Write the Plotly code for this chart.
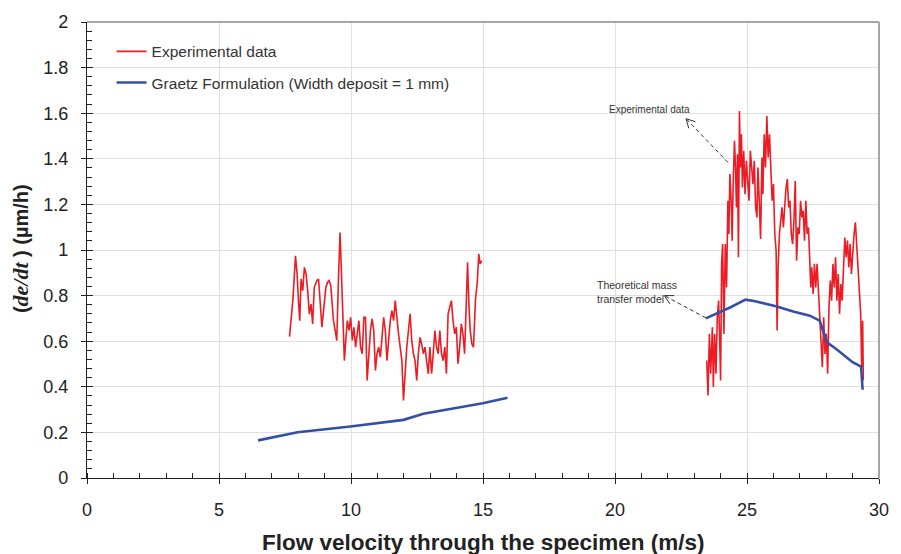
import math
import plotly.graph_objects as go

# ---------------- data ----------------
exp_left_x = [7.671, 7.797, 7.897, 7.959, 8.009, 8.059, 8.109, 8.172, 8.234, 8.297, 8.360, 8.422, 8.485,
              8.547, 8.610, 8.710, 8.772, 8.822, 8.860, 8.898, 8.960, 9.048, 9.110, 9.173, 9.235, 9.273,
              9.336, 9.423, 9.461, 9.523, 9.586, 9.636, 9.686, 9.749, 9.811, 9.861, 9.924, 9.986, 10.049,
              10.111, 10.174, 10.236, 10.299, 10.362, 10.424, 10.487, 10.549, 10.612, 10.674, 10.737,
              10.800, 10.862, 10.925, 10.987, 11.050, 11.112, 11.175, 11.237, 11.300, 11.363, 11.425,
              11.488, 11.550, 11.613, 11.675, 11.738, 11.801, 11.863, 11.926, 11.988, 12.038, 12.113,
              12.176, 12.239, 12.301, 12.364, 12.426, 12.489, 12.551, 12.614, 12.677, 12.739, 12.802,
              12.864, 12.927, 12.989, 13.052, 13.115, 13.177, 13.240, 13.302, 13.365, 13.427, 13.490,
              13.553, 13.615, 13.678, 13.740, 13.803, 13.865, 13.928, 13.990, 14.053, 14.116, 14.178,
              14.241, 14.303, 14.366, 14.416, 14.466, 14.516, 14.579, 14.641, 14.716, 14.779, 14.841,
              14.891, 14.954]
exp_left_y = [0.620, 0.778, 0.975, 0.895, 0.778, 0.690, 0.873, 0.822, 0.924, 0.895, 0.822, 0.720, 0.763,
              0.676, 0.836, 0.866, 0.873, 0.778, 0.749, 0.661, 0.734, 0.836, 0.858, 0.866, 0.844, 0.778,
              0.690, 0.632, 0.603, 0.866, 1.077, 0.909, 0.690, 0.515, 0.617, 0.690, 0.647, 0.705, 0.603,
              0.661, 0.574, 0.647, 0.690, 0.574, 0.545, 0.705, 0.705, 0.428, 0.545, 0.647,
              0.698, 0.647, 0.472, 0.545, 0.574, 0.530, 0.617, 0.705, 0.647, 0.515, 0.603,
              0.690, 0.734, 0.690, 0.778, 0.690, 0.632, 0.574, 0.515, 0.340, 0.457, 0.574,
              0.647, 0.720, 0.603, 0.545, 0.515, 0.428, 0.545, 0.617, 0.588, 0.545, 0.574,
              0.515, 0.457, 0.574, 0.457, 0.545, 0.647, 0.574, 0.545, 0.647, 0.545, 0.515,
              0.574, 0.457, 0.720, 0.749, 0.778, 0.690, 0.632, 0.661, 0.501, 0.574, 0.676,
              0.632, 0.545, 0.763, 0.946, 0.763, 0.647, 0.588, 0.574, 0.785, 0.851, 0.982,
              0.939, 0.953]

exp_right_x = [23.475, 23.525, 23.575, 23.625, 23.688, 23.725, 23.775, 23.825, 23.875, 23.925, 23.975,
               24.000, 24.038, 24.076, 24.126, 24.176, 24.226, 24.276, 24.313, 24.351, 24.401, 24.438,
               24.476, 24.526, 24.564, 24.601, 24.639, 24.676, 24.714, 24.751, 24.789, 24.826, 24.876,
               24.926, 24.976, 25.026, 25.077, 25.127, 25.177, 25.227, 25.277, 25.327, 25.377, 25.414,
               25.464, 25.515, 25.565, 25.602, 25.652, 25.702, 25.752, 25.802, 25.852, 25.902, 25.952,
               26.002, 26.053, 26.103, 26.140, 26.178, 26.228, 26.278, 26.328, 26.378, 26.428, 26.478,
               26.528, 26.578, 26.628, 26.678, 26.728, 26.778, 26.828, 26.878, 26.929, 26.979, 27.029,
               27.079, 27.129, 27.179, 27.229, 27.279, 27.329, 27.379, 27.416, 27.454, 27.504, 27.554,
               27.604, 27.654, 27.704, 27.754, 27.804, 27.854, 27.905, 27.955, 28.005, 28.055, 28.105,
               28.155, 28.205, 28.255, 28.305, 28.355, 28.405, 28.455, 28.505, 28.555, 28.605, 28.655,
               28.705, 28.755, 28.806, 28.856, 28.906, 28.956, 29.006, 29.056, 29.106, 29.156, 29.206,
               29.256, 29.306, 29.344, 29.381, 29.406]
exp_right_y = [0.515, 0.362, 0.632, 0.457, 0.661, 0.399, 0.632, 0.457, 0.705, 0.778, 0.559,
               0.428, 0.939, 1.026, 0.632, 1.026, 0.836, 1.216, 1.070, 1.333, 1.216, 1.041,
               1.289, 1.479, 1.362, 1.187, 1.420, 0.968, 1.610, 1.362, 1.508, 1.274, 1.435,
               1.245, 1.391, 1.303, 1.216, 1.435, 1.333, 1.289, 1.391, 1.187, 1.143, 1.362,
               1.216, 1.048, 1.406, 1.245, 1.508, 1.362, 1.588, 1.406, 1.508, 1.362, 1.216,
               1.289, 1.070, 0.997, 0.647, 0.924, 1.070, 1.128, 1.187, 1.099, 1.216, 1.274,
               1.311, 1.187, 1.216, 1.070, 1.026, 1.128, 1.303, 0.953, 1.099, 1.070, 1.216,
               1.143, 1.172, 1.041, 1.216, 1.070, 1.099, 0.982, 0.836, 0.924, 0.807, 0.939,
               0.836, 0.939, 0.807, 0.720, 0.603, 0.486, 0.705, 0.544, 0.632, 0.457, 0.749,
               0.866, 0.778, 0.939, 0.836, 0.968, 0.778, 0.895, 0.720, 0.851, 0.778, 0.895,
               1.055, 0.968, 1.041, 0.924, 1.026, 0.895, 0.997, 1.070, 1.121, 1.026, 0.924,
               0.836, 0.720, 0.486, 0.690, 0.428]

graetz_left_x = [6.48, 7.98, 9.98, 11.99, 12.74, 14.99, 15.93]
graetz_left_y = [0.165, 0.201, 0.226, 0.255, 0.282, 0.328, 0.352]

graetz_right_x = [23.44, 24.38, 24.94, 25.31, 26.13, 26.75, 27.38, 27.75, 27.88, 28.03, 28.38, 29.00, 29.32, 29.38]
graetz_right_y = [0.700, 0.749, 0.782, 0.775, 0.752, 0.730, 0.712, 0.690, 0.647, 0.595, 0.566, 0.508, 0.489, 0.387]

x_range = [0, 30]
y_range = [0, 2]
x_ticks = [0, 5, 10, 15, 20, 25, 30]
y_ticks = [0, 0.2, 0.4, 0.6, 0.8, 1, 1.2, 1.4, 1.6, 1.8, 2]

# annotation arrows: (text, text anchor, arrow head, arrow tail)
ann_exp_text = "Experimental data"
ann_exp_pos = (22.76, 1.585)
ann_exp_head = (22.69, 1.576)
ann_exp_tail = (24.28, 1.384)
ann_theo_text = "Theoretical mass<br>transfer model"
ann_theo_pos = (19.26, 0.815)
ann_theo_head = (21.87, 0.800)
ann_theo_tail = (23.44, 0.702)

RED = "#ec1c24"
BLUE = "#3450a4"
FONT = "Liberation Sans, Arial, sans-serif"

# ---------------- layout geometry ----------------
W, H = 901, 554
ML, MR, MT, MB = 87, 14, 21, 76
PW = W - ML - MR
PH = H - MT - MB
px_per_x = PW / (x_range[1] - x_range[0])
px_per_y = PH / (y_range[1] - y_range[0])

fig = go.Figure()

fig.add_trace(go.Scatter(x=exp_left_x, y=exp_left_y, mode="lines",
                         line=dict(color=RED, width=1.6), name="Experimental data",
                         legendgroup="a"))
fig.add_trace(go.Scatter(x=exp_right_x, y=exp_right_y, mode="lines",
                         line=dict(color=RED, width=1.6), showlegend=False, legendgroup="a"))
fig.add_trace(go.Scatter(x=graetz_left_x, y=graetz_left_y, mode="lines",
                         line=dict(color=BLUE, width=2.6),
                         name="Graetz Formulation (Width deposit = 1 mm)", legendgroup="b"))
fig.add_trace(go.Scatter(x=graetz_right_x, y=graetz_right_y, mode="lines",
                         line=dict(color=BLUE, width=2.6), showlegend=False, legendgroup="b"))
# invisible trace on overlay axes (inside major ticks)
fig.add_trace(go.Scatter(x=[None], y=[None], xaxis="x2", yaxis="y2", showlegend=False,
                         hoverinfo="skip"))

shapes = []


def arrow(head, tail):
    hx, hy = head
    tx, ty = tail
    dxp = (tx - hx) * px_per_x
    dyp = (ty - hy) * px_per_y
    L = math.hypot(dxp, dyp)
    ux, uy = dxp / L, dyp / L
    shapes.append(dict(type="line", xref="x", yref="y", x0=tx, y0=ty, x1=hx, y1=hy,
                       line=dict(color="#333333", width=1, dash="4px,3px")))
    ang = math.radians(28)
    ln = 10
    for s in (1, -1):
        rx = ux * math.cos(s * ang) - uy * math.sin(s * ang)
        ry = ux * math.sin(s * ang) + uy * math.cos(s * ang)
        shapes.append(dict(type="line", xref="x", yref="y", x0=hx, y0=hy,
                           x1=hx + rx * ln / px_per_x, y1=hy + ry * ln / px_per_y,
                           line=dict(color="#333333", width=1)))


arrow(ann_exp_head, ann_exp_tail)
arrow(ann_theo_head, ann_theo_tail)

# top & right frame lines (gray)
shapes.append(dict(type="line", xref="paper", yref="paper", x0=0, x1=1, y0=1, y1=1,
                   line=dict(color="#a6a6a6", width=2)))
shapes.append(dict(type="line", xref="paper", yref="paper", x0=1, x1=1, y0=0, y1=1,
                   line=dict(color="#a6a6a6", width=2)))

annotations = [
    dict(text=ann_exp_text, x=ann_exp_pos[0], y=ann_exp_pos[1], xref="x", yref="y",
         xanchor="right", yanchor="bottom", xshift=4, showarrow=False,
         font=dict(family=FONT, size=10, color="#333333")),
    dict(text=ann_theo_text, x=ann_theo_pos[0], y=ann_theo_pos[1], xref="x", yref="y",
         xanchor="left", yanchor="middle", showarrow=False, align="left",
         font=dict(family=FONT, size=10.5, color="#333333")),
    dict(text="<b>Flow velocity through the specimen (m/s)</b>", x=0.5, y=-0.141,
         xref="paper", yref="paper", showarrow=False, xanchor="center", yanchor="middle",
         font=dict(family=FONT, size=22.5, color="#222222")),
    dict(text="<b>(<span style='font-family:Liberation Serif, Times New Roman, serif;font-size:22px'><i>de/dt</i></span> ) (µm/h)</b>",
         x=-0.084, y=0.503, xref="paper", yref="paper", showarrow=False, textangle=-90,
         xanchor="center", yanchor="middle",
         font=dict(family=FONT, size=20, color="#222222")),
]

fig.update_layout(
    width=W, height=H,
    margin=dict(l=ML, r=MR, t=MT, b=MB),
    paper_bgcolor="white", plot_bgcolor="white",
    font=dict(family=FONT, size=18, color="#222222"),
    shapes=shapes, annotations=annotations,
    legend=dict(x=0.031, y=0.972, xanchor="left", yanchor="top",
                traceorder="grouped", tracegroupgap=8,
                font=dict(family=FONT, size=15.5, color="#333333"),
                bgcolor="rgba(0,0,0,0)"),
    xaxis=dict(range=x_range, tickvals=x_ticks, ticks="outside", ticklen=5, tickwidth=1,
               tickcolor="#222222", showline=True, linecolor="#222222", linewidth=1.3,
               showgrid=True, gridcolor="#e0e0e0", gridwidth=1, zeroline=False,
               ticklabelstandoff=10,
               tickfont=dict(family=FONT, size=18, color="#222222"),
               minor=dict(dtick=1, ticks="inside", ticklen=5, tickcolor="#222222", showgrid=False)),
    yaxis=dict(range=y_range, tickvals=y_ticks, ticks="outside", ticklen=5, tickwidth=1,
               tickcolor="#222222", showline=True, linecolor="#222222", linewidth=1.3,
               showgrid=True, gridcolor="#e0e0e0", gridwidth=1, zeroline=False,
               ticklabelstandoff=9,
               tickfont=dict(family=FONT, size=18, color="#222222"),
               minor=dict(dtick=0.04, ticks="inside", ticklen=5, tickcolor="#222222", showgrid=False)),
    xaxis2=dict(range=x_range, tickvals=x_ticks, ticks="inside", ticklen=5, tickcolor="#222222",
                overlaying="x", anchor="y", showticklabels=False, showgrid=False, showline=False,
                zeroline=False),
    yaxis2=dict(range=y_range, tickvals=y_ticks, ticks="inside", ticklen=6, tickcolor="#222222",
                overlaying="y", anchor="x", showticklabels=False, showgrid=False, showline=False,
                zeroline=False),
)

fig.write_html("out.html")
